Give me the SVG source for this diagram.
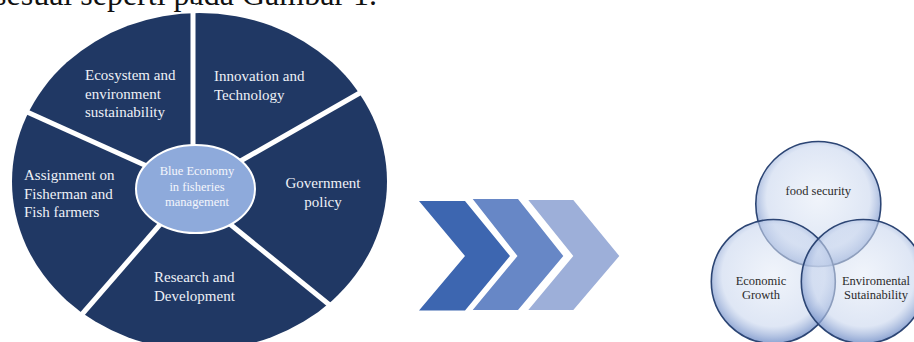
<svg xmlns="http://www.w3.org/2000/svg" width="914" height="342" viewBox="0 0 914 342">
  <defs>
    <style>
      .body { font-family: "Liberation Serif", "Times New Roman", serif; fill: #111111; }
      .seg-text { font-family: "Liberation Serif", "Times New Roman", serif; font-size: 15px; fill: #eef1f7; }
      .hub-text { font-family: "Liberation Serif", "Times New Roman", serif; font-size: 12.5px; fill: #f4f6fb; text-anchor: middle; }
      .venn-text { font-family: "Liberation Serif", "Times New Roman", serif; font-size: 12.5px; fill: #2b2b2b; text-anchor: middle; }
      .divider { stroke: #ffffff; stroke-width: 5; stroke-linecap: butt; }
      .venn { fill: url(#bubble); stroke: #2c4574; stroke-width: 1.6; }
    </style>
    <radialGradient id="bubble" cx="50%" cy="45%" r="55%">
      <stop offset="0" stop-color="#e4ebf7" stop-opacity="0.55"/>
      <stop offset="0.75" stop-color="#c9d6ee" stop-opacity="0.6"/>
      <stop offset="1" stop-color="#6f8cc6" stop-opacity="0.8"/>
    </radialGradient>
  </defs>

  <rect width="914" height="342" fill="#ffffff"/>

  <!-- running text line above the figure, mostly cut off -->
  <text class="body" x="377" y="5" font-size="32" text-anchor="end">sesuai seperti pada Gambar 1.</text>

  <!-- pie: navy disc split into five sectors -->
  <g id="pie-base">
    <ellipse cx="199.5" cy="181.5" rx="187.5" ry="168.5" fill="#203864"/>
  </g>
  <g id="pie-dividers">
    <line class="divider" x1="193" y1="4" x2="193" y2="160"/>
    <line class="divider" x1="230" y1="167" x2="372" y2="86"/>
    <line class="divider" x1="220" y1="216" x2="337" y2="311"/>
    <line class="divider" x1="170" y1="213" x2="77" y2="320"/>
    <line class="divider" x1="160" y1="172" x2="16" y2="107"/>
  </g>

  <g id="seg-ecosystem">
    <text class="seg-text" x="85" y="80">Ecosystem and</text>
    <text class="seg-text" x="85" y="98.5">environment</text>
    <text class="seg-text" x="85" y="117">sustainability</text>
  </g>
  <g id="seg-innovation">
    <text class="seg-text" x="214" y="81">Innovation and</text>
    <text class="seg-text" x="214" y="99.5">Technology</text>
  </g>
  <g id="seg-government">
    <text class="seg-text" x="323" y="188" text-anchor="middle">Government</text>
    <text class="seg-text" x="323" y="206.5" text-anchor="middle">policy</text>
  </g>
  <g id="seg-research">
    <text class="seg-text" x="154" y="282">Research and</text>
    <text class="seg-text" x="154" y="300.5">Development</text>
  </g>
  <g id="seg-assignment">
    <text class="seg-text" x="24" y="180">Assignment on</text>
    <text class="seg-text" x="24" y="198.5">Fisherman and</text>
    <text class="seg-text" x="24" y="217">Fish farmers</text>
  </g>

  <g id="hub">
    <ellipse cx="195.5" cy="189" rx="59.5" ry="44" fill="#8eaadb" stroke="#ffffff" stroke-width="2"/>
    <text class="hub-text" x="197" y="175">Blue Economy</text>
    <text class="hub-text" x="197" y="190.5">in fisheries</text>
    <text class="hub-text" x="197" y="206">management</text>
  </g>

  <!-- chevron process arrows -->
  <g id="connectors">
    <polygon points="419,201 465,201 510,256 465,310.5 419,310.5 465,256" fill="#3d66b0"/>
    <polygon points="472.7,199 518,199 563.3,256 518,310 472.7,310 517.5,256" fill="#6787c6"/>
    <polygon points="528.3,200 573.3,200 619.3,256 573.3,310 528.3,310 573.3,256" fill="#9dafd9"/>
  </g>

  <!-- three-way Venn diagram -->
  <g id="venn-food">
    <circle class="venn" cx="818.3" cy="204" r="62.5"/>
  </g>
  <g id="venn-economic">
    <circle class="venn" cx="773.3" cy="281.5" r="62"/>
  </g>
  <g id="venn-environment">
    <circle class="venn" cx="863.3" cy="281.5" r="62"/>
  </g>
  <g id="venn-labels">
    <text class="venn-text" x="818.3" y="195">food security</text>
    <text class="venn-text" x="761" y="285">Economic</text>
    <text class="venn-text" x="761" y="299">Growth</text>
    <text class="venn-text" x="876" y="285">Enviromental</text>
    <text class="venn-text" x="876" y="299">Sutainability</text>
  </g>
</svg>
